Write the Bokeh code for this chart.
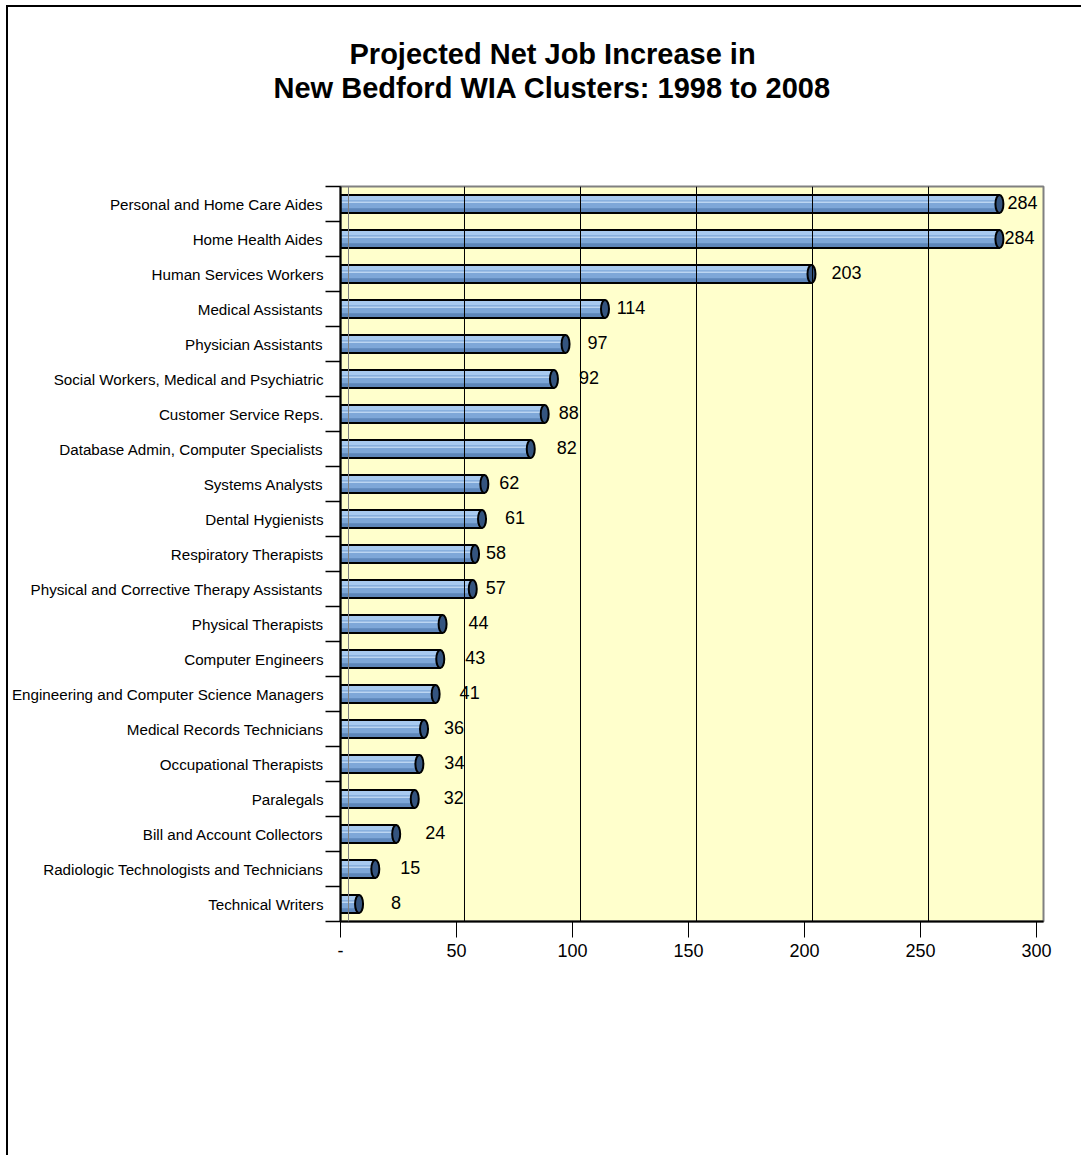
from bokeh.plotting import figure
from bokeh.models import Range1d, FixedTicker, Title, Span, ColumnDataSource
from bokeh.transform import dodge
from bokeh.core.properties import value
from bokeh.embed import file_html
from bokeh.resources import INLINE

# ---------------- data ----------------
categories = [
    "Personal and Home Care Aides",
    "Home Health Aides",
    "Human Services Workers",
    "Medical Assistants",
    "Physician Assistants",
    "Social Workers, Medical and Psychiatric",
    "Customer Service Reps.",
    "Database Admin, Computer Specialists",
    "Systems Analysts",
    "Dental Hygienists",
    "Respiratory Therapists",
    "Physical and Corrective Therapy Assistants",
    "Physical Therapists",
    "Computer Engineers",
    "Engineering and Computer Science Managers",
    "Medical Records Technicians",
    "Occupational Therapists",
    "Paralegals",
    "Bill and Account Collectors",
    "Radiologic Technologists and Technicians",
    "Technical Writers",
]
values = [284, 284, 203, 114, 97, 92, 88, 82, 62, 61, 58, 57,
          44, 43, 41, 36, 34, 32, 24, 15, 8]
x_ticks = [0, 50, 100, 150, 200, 250, 300]
x_tick_labels = ["-", "50", "100", "150", "200", "250", "300"]
title_lines = ["Projected Net Job Increase in",
               "New Bedford WIA Clusters:  1998 to 2008"]

# label nudges (pixels, styling only)
label_dx = [23, 20, 35, 26, 32, 35, 24, 36, 25, 33, 21, 23,
            36, 35, 34, 30, 35, 39, 39, 35, 37]

FONT = "Liberation Sans"
n = len(categories)
ypos = [n - 1 - i for i in range(n)]

W, H = 1075, 1150
ML, MR, MT, MB = 331, 40, 179, 236
X_END = 303

p = figure(width=W, height=H,
           x_range=Range1d(0, X_END), y_range=Range1d(-0.5, n - 0.5),
           output_backend="svg", toolbar_location=None,
           min_border_left=ML, min_border_right=MR,
           min_border_top=MT, min_border_bottom=MB)
p.styles = {"margin-left": "6px", "margin-top": "5px",
            "border-left": "2px solid #000", "border-top": "2px solid #000"}

p.background_fill_color = "#FFFFCC"
p.border_fill_color = "white"
p.outline_line_color = "#808080"
p.outline_line_width = 2
p.xgrid.visible = False
p.ygrid.visible = False

# back-wall grid lines (offset by the 3-D depth)
px_per_unit = (W - ML - MR) / X_END
depth = 8 / px_per_unit
for t in x_ticks:
    p.add_layout(Span(location=t + depth, dimension="height",
                      line_color="#808080" if t == 0 else "black",
                      line_width=1))

src = ColumnDataSource(dict(y=ypos, v=values,
                            lab=[str(v) for v in values], dx=label_dx))

BH = 0.52
p.hbar(y="y", left=0, right="v", height=BH, source=src,
       fill_color="#7EA7D8", line_color=None)
p.hbar(y=dodge("y", 0.17, range=p.y_range), left=0, right="v", height=0.12,
       source=src, fill_color="#A8CAF0", line_color=None)
p.hbar(y=dodge("y", 0.05, range=p.y_range), left=0, right="v", height=0.04,
       source=src, fill_color="#BCD6F2", line_color=None)
p.hbar(y=dodge("y", -0.18, range=p.y_range), left=0, right="v", height=0.12,
       source=src, fill_color="#5D86BA", line_color=None)
p.hbar(y="y", left=0, right="v", height=BH, source=src,
       fill_color=None, line_color="black", line_width=2)
p.ellipse(x="v", y="y", width=8, width_units="screen", height=BH,
          source=src, fill_color="#34547F", line_color="black", line_width=2)

p.text(x="v", y="y", text="lab", source=src, x_offset="dx", y_offset=-2,
       text_align="center", text_baseline="middle",
       text_font=value(FONT), text_font_size="18px", text_color="black")

# axes
xa = p.xaxis[0]
xa.ticker = FixedTicker(ticks=x_ticks)
xa.major_label_overrides = {t: l for t, l in zip(x_ticks, x_tick_labels)}
xa.major_tick_out = 16
xa.major_tick_in = 0
xa.minor_tick_out = 0
xa.minor_tick_in = 0
xa.axis_line_width = 2
xa.axis_line_color = "black"
xa.major_tick_line_color = "black"
xa.major_label_standoff = 6
xa.major_label_text_font = FONT
xa.major_label_text_font_size = "18px"
xa.major_label_text_color = "black"

ya = p.yaxis[0]
ya.ticker = FixedTicker(ticks=ypos, minor_ticks=[k - 0.5 for k in range(n + 1)])
ya.major_label_overrides = {y: c for y, c in zip(ypos, categories)}
ya.major_tick_out = 0
ya.major_tick_in = 0
ya.minor_tick_out = 15
ya.minor_tick_in = 0
ya.minor_tick_line_color = "black"
ya.minor_tick_line_width = 1.5
ya.axis_line_width = 2
ya.axis_line_color = "black"
ya.major_label_standoff = 2
ya.major_label_text_font = FONT
ya.major_label_text_font_size = "15.2px"
ya.major_label_text_color = "black"

# title: stacked panels above the frame (first added sits nearest the frame)
TITLE_SIZE = "29px"
p.add_layout(Title(text=" ", align="left", standoff=49,
                   text_font=FONT, text_font_size=TITLE_SIZE), "above")  # spacer
p.add_layout(Title(text=title_lines[1], align="left", offset=-67, standoff=0,
                   text_font=FONT, text_font_style="bold",
                   text_font_size=TITLE_SIZE, text_color="black"), "above")
p.add_layout(Title(text=title_lines[0], align="left", offset=9, standoff=0,
                   text_font=FONT, text_font_style="bold",
                   text_font_size=TITLE_SIZE, text_color="black"), "above")

open("out.html", "w").write(file_html(p, INLINE))
